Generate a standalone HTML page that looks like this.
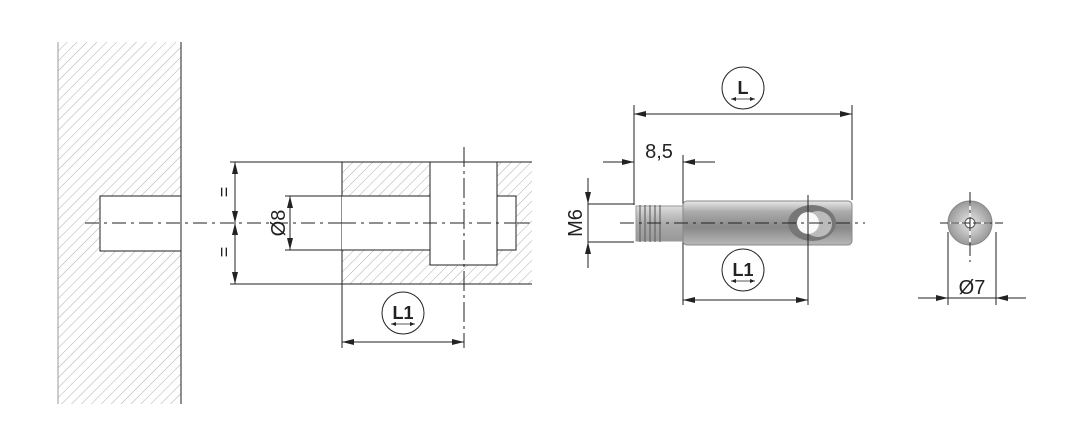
<!DOCTYPE html>
<html><head><style>body{margin:0;background:#fff}svg{display:block}text{font-family:"Liberation Sans",sans-serif;fill:#222}</style></head>
<body>
<svg width="1072" height="427" viewBox="0 0 1072 427" xmlns="http://www.w3.org/2000/svg">
<defs>
<pattern id="h" width="7" height="7" patternUnits="userSpaceOnUse" patternTransform="rotate(45)"><line x1="0" y1="0" x2="0" y2="7" stroke="#999" stroke-width="0.8"/></pattern>
<marker id="a" markerWidth="12" markerHeight="6" refX="12" refY="3" orient="auto-start-reverse" markerUnits="userSpaceOnUse"><path d="M0,0 L12,3 L0,6z" fill="#222"/></marker>
<marker id="s" markerWidth="5" markerHeight="4" refX="5" refY="2" orient="auto-start-reverse" markerUnits="userSpaceOnUse"><path d="M0,0 L5,2 L0,4z" fill="#222"/></marker>
<linearGradient id="g" x1="0" y1="0" x2="0" y2="1"><stop offset="0" stop-color="#e8e8e8"/><stop offset=".25" stop-color="#aaa"/><stop offset=".6" stop-color="#888"/><stop offset="1" stop-color="#b8b8b8"/></linearGradient>
<linearGradient id="g2" x1="0" y1="0" x2="0" y2="1"><stop offset="0" stop-color="#ddd"/><stop offset=".5" stop-color="#aaa"/><stop offset="1" stop-color="#999"/></linearGradient>
<radialGradient id="rg"><stop offset="0" stop-color="#e8e8e8"/><stop offset="1" stop-color="#999"/></radialGradient>
</defs>
<g stroke="#222" stroke-width="1" fill="none">
<rect x="58" y="42" width="123" height="362" fill="url(#h)" stroke="none"/>
<line x1="58" y1="42" x2="58" y2="404" stroke="#999"/>
<rect x="100" y="196" width="81" height="55" fill="#fff"/>
<line x1="181" y1="42" x2="181" y2="404"/>
<line x1="85" y1="223" x2="530" y2="223" stroke-dasharray="14,5,3,5"/>
<rect x="342" y="162" width="190" height="122" fill="url(#h)" stroke="none"/>
<line x1="230" y1="162" x2="532" y2="162"/><line x1="230" y1="284" x2="532" y2="284"/>
<line x1="342" y1="162" x2="342" y2="348"/>
<rect x="342" y="196" width="88" height="54" fill="#fff" stroke="none"/>
<line x1="285" y1="196" x2="430" y2="196"/><line x1="285" y1="250" x2="430" y2="250"/>
<rect x="497" y="196" width="19" height="54" fill="#fff"/>
<rect x="430" y="162" width="67" height="103" fill="#fff"/>
<line x1="342" y1="223" x2="516" y2="223" stroke-dasharray="14,5,3,5"/>
<line x1="464" y1="147" x2="464" y2="348" stroke-dasharray="20,4,3,4"/>
<line x1="235" y1="162" x2="235" y2="223" marker-start="url(#a)" marker-end="url(#a)"/>
<line x1="235" y1="223" x2="235" y2="284" marker-start="url(#a)" marker-end="url(#a)"/>
<line x1="290" y1="196" x2="290" y2="250" marker-start="url(#a)" marker-end="url(#a)"/>
<line x1="342" y1="342" x2="464" y2="342" marker-start="url(#a)" marker-end="url(#a)"/>
<circle cx="403" cy="313" r="21"/>
<line x1="391" y1="324" x2="415" y2="324" stroke-width=".7" marker-start="url(#s)" marker-end="url(#s)"/>
<line x1="634" y1="105" x2="634" y2="205"/><line x1="852" y1="105" x2="852" y2="200"/>
<line x1="634" y1="114" x2="852" y2="114" marker-start="url(#a)" marker-end="url(#a)"/>
<circle cx="743" cy="88" r="21"/><line x1="731" y1="99" x2="755" y2="99" stroke-width=".7" marker-start="url(#s)" marker-end="url(#s)"/>
<line x1="683" y1="155" x2="683" y2="305"/>
<line x1="603" y1="162" x2="634" y2="162" marker-end="url(#a)"/>
<line x1="715" y1="162" x2="683" y2="162" marker-end="url(#a)"/>
<line x1="588" y1="204" x2="634" y2="204"/><line x1="588" y1="242" x2="634" y2="242"/>
<line x1="588" y1="178" x2="588" y2="204" marker-end="url(#a)"/>
<line x1="588" y1="268" x2="588" y2="242" marker-end="url(#a)"/>
<line x1="588" y1="204" x2="588" y2="242"/>
<rect x="636" y="206" width="47" height="35" fill="url(#g2)" stroke="#999"/>
<g stroke="#666" stroke-width="1.2"><line x1="640" y1="205" x2="640" y2="242"/><line x1="645" y1="205" x2="645" y2="242"/><line x1="650" y1="205" x2="650" y2="242"/><line x1="655" y1="205" x2="655" y2="242"/><line x1="660" y1="205" x2="660" y2="242"/></g>
<rect x="683" y="201" width="169" height="44" rx="4" fill="url(#g)" stroke="#888"/>
<ellipse cx="812" cy="223" rx="24" ry="18" fill="#777" stroke="none"/>
<ellipse cx="818" cy="224" rx="14" ry="13" fill="#bbb" stroke="none"/>
<circle cx="808" cy="223" r="11" fill="#fafafa" stroke="none"/>
<line x1="808" y1="195" x2="808" y2="305"/>
<line x1="620" y1="223" x2="865" y2="223" stroke-dasharray="14,5,3,5"/>
<line x1="683" y1="300" x2="808" y2="300" marker-start="url(#a)" marker-end="url(#a)"/>
<circle cx="743" cy="270" r="21"/><line x1="731" y1="281" x2="755" y2="281" stroke-width=".7" marker-start="url(#s)" marker-end="url(#s)"/>
<circle cx="970" cy="223" r="22" fill="url(#rg)" stroke="#888"/>
<g stroke="#eee" stroke-width="2"><line x1="950" y1="223" x2="990" y2="223"/><line x1="970" y1="203" x2="970" y2="243"/></g>
<circle cx="970" cy="223" r="5" fill="#fff" stroke="#555"/>
<line x1="940" y1="223" x2="1006" y2="223" stroke-dasharray="8,3"/>
<line x1="970" y1="192" x2="970" y2="262" stroke-dasharray="14,4,3,4"/>
<line x1="948" y1="232" x2="948" y2="305"/><line x1="996" y1="232" x2="996" y2="305"/>
<line x1="918" y1="298" x2="948" y2="298" marker-end="url(#a)"/>
<line x1="1026" y1="298" x2="996" y2="298" marker-end="url(#a)"/>
<line x1="948" y1="298" x2="996" y2="298"/>
</g>
<text x="225" y="197" font-size="18" text-anchor="middle" transform="rotate(-90 225 192)">=</text>
<text x="225" y="257" font-size="18" text-anchor="middle" transform="rotate(-90 225 252)">=</text>
<text x="278" y="230" font-size="20" text-anchor="middle" transform="rotate(-90 278 223)">Ø8</text>
<text x="403" y="319" font-size="18" font-weight="bold" text-anchor="middle">L1</text>
<text x="743" y="94" font-size="18" font-weight="bold" text-anchor="middle">L</text>
<text x="743" y="276" font-size="18" font-weight="bold" text-anchor="middle">L1</text>
<text x="659" y="158" font-size="20" text-anchor="middle">8,5</text>
<text x="575" y="230" font-size="20" text-anchor="middle" transform="rotate(-90 575 223)">M6</text>
<text x="972" y="294" font-size="20" text-anchor="middle">Ø7</text>
</svg>
</body></html>
